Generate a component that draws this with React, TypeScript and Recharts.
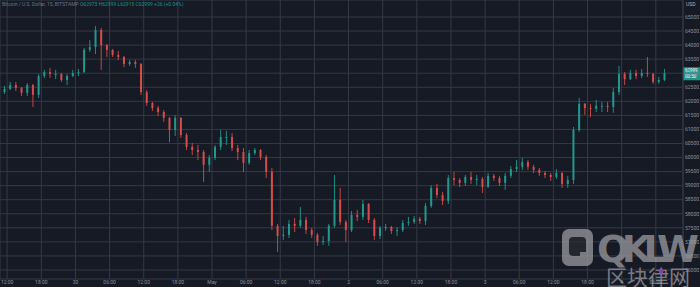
import { ComposedChart, Bar, XAxis, YAxis, CartesianGrid, ReferenceLine } from 'recharts';

// hourly candles, hour offsets counted from May 1 00:00 (first candle opens Apr 29 11:00)
const START_HOUR = -37;

const opens = [
  62330, 62440, 62580, 62470, 62300, 62580, 62230, 62900, 63040, 62970,
  62970, 62760, 62900, 63010, 63040, 63830, 63930, 64540, 64000, 63830,
  63650, 63580, 63330, 63400, 63330, 62330, 61940, 61760, 61620, 61410,
  60980, 61410, 60800, 60380, 60270, 60200, 59740, 59990, 60380, 60730,
  60730, 60340, 60200, 59810, 60160, 60270, 60020, 59490, 57570, 57210,
  57250, 57640, 57570, 57780, 57420, 57250, 57000, 57030, 57570, 58490,
  57710, 57420, 57960, 57890, 58350, 57780, 57210, 57500, 57530, 57390,
  57420, 57670, 57710, 57820, 57740, 58280, 58920, 58670, 58460, 59270,
  59200, 59100, 59310, 59200, 59240, 58950, 59350, 59270, 59100, 59350,
  59590, 59670, 59840, 59670, 59560, 59450, 59380, 59310, 59450, 59060,
  59200, 60980, 61910, 61760, 61730, 61840, 61840, 61800, 62330, 62970,
  62790, 63010, 62900, 63010, 62970, 62690, 62760,
];

const highs = [
  62550, 62690, 62690, 62510, 62650, 62620, 62970, 63120, 63190, 63120,
  63010, 62970, 63120, 63150, 63900, 64180, 64680, 64610, 64040, 63860,
  63790, 63610, 63470, 63470, 63360, 62400, 61980, 61840, 61690, 61440,
  61510, 61440, 60870, 60520, 60450, 60270, 60090, 60450, 60980, 60950,
  60870, 60450, 60340, 60270, 60340, 60300, 60090, 59630, 57640, 57570,
  57780, 57850, 58240, 57890, 57500, 57320, 57210, 57640, 59380, 58920,
  57780, 58100, 58140, 58490, 58380, 57850, 57570, 57640, 57570, 57530,
  57780, 57890, 57920, 57890, 58380, 59020, 59060, 58780, 59380, 59490,
  59270, 59380, 59490, 59380, 59310, 59450, 59420, 59350, 59450, 59700,
  59910, 59990, 59910, 59740, 59630, 59520, 59450, 59590, 59490, 59350,
  61090, 62120, 61940, 61910, 62050, 61980, 61980, 62480, 63260, 63040,
  63120, 63120, 63150, 63580, 63010, 62870, 63150,
];

const lows = [
  62260, 62400, 62370, 62190, 62190, 61800, 62120, 62830, 62830, 62790,
  62690, 62580, 62870, 62900, 63010, 63760, 63680, 63120, 63580, 63580,
  63470, 63220, 63260, 63190, 62230, 61840, 61660, 61480, 61270, 60550,
  60770, 60700, 60270, 60090, 59910, 59130, 59490, 59910, 60270, 60450,
  60230, 59910, 59490, 59740, 60090, 59910, 59270, 57420, 56640, 57070,
  57140, 57350, 57500, 57280, 57140, 56860, 56890, 56860, 57500, 57600,
  57000, 57350, 57740, 57780, 57670, 57070, 57100, 57390, 57280, 57210,
  57350, 57570, 57640, 57640, 57600, 58210, 58560, 58310, 58350, 59020,
  58950, 58990, 59060, 59020, 58740, 58920, 59170, 58990, 58850, 59270,
  59490, 59560, 59560, 59450, 59350, 59270, 59170, 59240, 58920, 58920,
  59060, 60910, 61520, 61440, 61620, 61620, 61620, 61590, 62230, 62580,
  62760, 62790, 62830, 62870, 62620, 62620, 62720,
];

const closes = [
  62440, 62580, 62470, 62300, 62580, 62230, 62900, 63040, 62970, 62970,
  62760, 62900, 63010, 63040, 63830, 63930, 64540, 64000, 63830, 63650,
  63580, 63330, 63400, 63330, 62330, 61940, 61760, 61620, 61410, 60980,
  61410, 60800, 60380, 60270, 60200, 59740, 59990, 60380, 60730, 60730,
  60340, 60200, 59810, 60160, 60270, 60020, 59490, 57570, 57210, 57250,
  57640, 57570, 57780, 57420, 57250, 57000, 57030, 57570, 58490, 57710,
  57420, 57960, 57890, 58350, 57780, 57210, 57500, 57530, 57390, 57420,
  57670, 57710, 57820, 57740, 58280, 58920, 58670, 58460, 59270, 59200,
  59100, 59310, 59200, 59240, 58950, 59350, 59270, 59100, 59350, 59590,
  59670, 59840, 59670, 59560, 59450, 59380, 59310, 59450, 59060, 59200,
  60980, 61910, 61760, 61730, 61840, 61840, 61800, 62330, 62970, 62790,
  63010, 62900, 63010, 62970, 62690, 62760, 62999,
];

const priceTicks = [
  56000, 56500, 57000, 57500, 58000, 58500, 59000, 59500, 60000,
  60500, 61000, 61500, 62000, 62500, 63000, 63500, 64000, 64500, 65000,
];
const timeTicks = [-36, -30, -24, -18, -12, -6, 0, 6, 12, 18, 24, 30, 36, 42, 48, 54, 60, 66, 72, 78];
const timeLabels = [
  '12:00', '18:00', '30', '06:00', '12:00', '18:00', 'May', '06:00', '12:00', '18:00',
  '2', '06:00', '12:00', '18:00', '3', '06:00', '12:00', '18:00', '4', '06:00',
];

const LAST_PRICE = 62999;
const UP = '#24978c';
const DOWN = '#d44d4b';
const BG = '#161a25';
const GRID = '#353946';
const TEXT = '#8d919c';
const FONT = 'Roboto, "Noto Sans", sans-serif';

const data = closes.map((c, i) => ({
  t: START_HOUR + i + 0.5,
  open: opens[i],
  high: highs[i],
  low: lows[i],
  close: c,
}));

const Candle = (props: any) => {
  const { x, y, width, height, payload } = props;
  if (x == null || y == null) return null;
  const { open, close, high, low } = payload;
  const top = Math.min(y, y + height);
  const span = Math.abs(height);
  const toY = (v: number) => (high === low ? top : top + ((high - v) / (high - low)) * span);
  const color = close >= open ? UP : DOWN;
  const cx = x + width / 2;
  const bodyTop = toY(Math.max(open, close));
  const bodyH = Math.max(1, toY(Math.min(open, close)) - bodyTop);
  return (
    <g>
      <line x1={cx} x2={cx} y1={top} y2={top + span} stroke={color} strokeWidth={0.9} />
      <rect x={x} y={bodyTop} width={width} height={bodyH} fill={color} />
    </g>
  );
};

const PriceTag = (props: any) => {
  const vb = props.viewBox;
  if (!vb) return null;
  const x = vb.x + vb.width;
  return (
    <g>
      <rect x={x} y={vb.y - 6} width={17} height={13} fill="#1f9488" />
      <text x={x + 2} y={vb.y - 1} fontSize={4.5} fill="#ffffff" fontFamily={FONT}>{LAST_PRICE}</text>
      <text x={x + 2} y={vb.y + 5} fontSize={4.5} fill="#ffffff" fontFamily={FONT}>00:50</text>
    </g>
  );
};

export default function App() {
  return (
    <div style={{ position: 'relative', width: 700, height: 287, background: BG, overflow: 'hidden' }}>
      <style>{'body{margin:0}'}</style>
      <ComposedChart width={700} height={287} data={data} margin={{ top: 0, right: 0, bottom: 0, left: 0 }}>
        <CartesianGrid stroke={GRID} strokeWidth={1} />
        <XAxis
          dataKey="t"
          type="number"
          domain={[-37.26, 82.78]}
          allowDataOverflow
          ticks={timeTicks}
          tickFormatter={(v: number) => timeLabels[timeTicks.indexOf(v)] ?? ''}
          height={8}
          axisLine={false}
          tickLine={false}
          tickSize={0}
          tickMargin={1}
          interval={0}
          tick={{ fontSize: 5, fill: TEXT, fontFamily: FONT }}
        />
        <YAxis
          orientation="right"
          type="number"
          domain={[55679, 65605]}
          allowDataOverflow
          ticks={priceTicks}
          width={17}
          axisLine={{ stroke: GRID }}
          tickLine={false}
          tickSize={0}
          tickMargin={2}
          interval={0}
          tick={{ fontSize: 5, fill: TEXT, fontFamily: FONT, textAnchor: 'start' }}
        />
        <ReferenceLine y={LAST_PRICE} stroke="none" label={<PriceTag />} />
        <Bar
          dataKey={(d: any) => [d.low, d.high]}
          barSize={2}
          shape={<Candle />}
          isAnimationActive={false}
        />
      </ComposedChart>

      <div style={{ position: 'absolute', left: 2, top: 1, fontSize: 5, fontFamily: FONT, whiteSpace: 'nowrap', lineHeight: '6px' }}>
        <span style={{ color: '#6f7480' }}>Bitcoin / U.S. Dollar, 15, BITSTAMP </span>
        <span style={{ color: '#1f9488' }}>O62973 H62999 L62915 C62999 +26 (+0.04%)</span>
      </div>
      <div style={{ position: 'absolute', left: 686, top: 1, fontSize: 5, fontFamily: FONT, color: '#b0b3bb' }}>USD</div>

      <svg width={700} height={287} style={{ position: 'absolute', left: 0, top: 0, pointerEvents: 'none' }}>
        <g opacity={0.75}>
          <rect x={562} y={229} width={31} height={37} rx={7} fill="#9a9ba0" />
          <rect x={569} y={237} width={17} height={19} rx={4} fill="#2a2c33" />
          <rect x={580} y={252} width={7} height={8} fill="#9a9ba0" />
          <text x={597} y={262} fontSize={38} fontWeight={700} fill="#9a9ba0" fontFamily="'DejaVu Sans', sans-serif" textLength={102}>QKLW</text>
          <text x={606} y={285} fontSize={21} fill="#9a9ba0" fontFamily="'Noto Sans CJK SC', sans-serif">区块律网</text>
          <circle cx={661} cy={271} r={2.5} fill="#b04ad0" />
        </g>
      </svg>
    </div>
  );
}
